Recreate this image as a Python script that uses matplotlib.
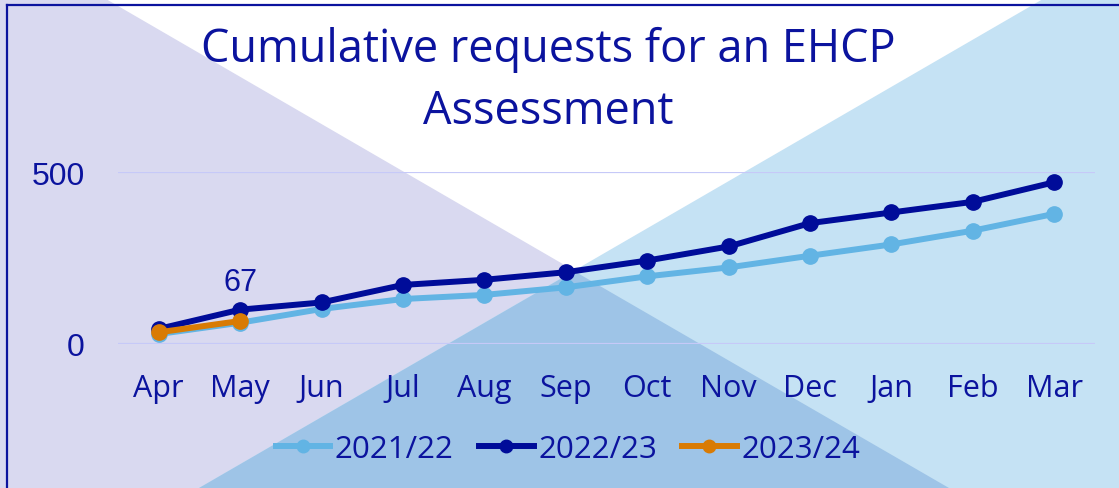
import matplotlib
matplotlib.use("Agg")
import matplotlib.pyplot as plt
from matplotlib.patches import Polygon
from matplotlib.lines import Line2D

# data
months = ['Apr', 'May', 'Jun', 'Jul', 'Aug', 'Sep', 'Oct', 'Nov', 'Dec', 'Jan', 'Feb', 'Mar']
y2122 = [29, 62, 102, 131, 143, 165, 197, 223, 257, 290, 330, 379]
y2223 = [44, 100, 121, 172, 187, 209, 243, 284, 352, 383, 414, 471]
y2324 = [34, 67]
series_names = ['2021/22', '2022/23', '2023/24']

navy = '#0b139e'
c_light = '#62b4e4'
c_dark = '#000c99'
c_orange = '#d97b04'

W, H = 1119, 489
fig = plt.figure(figsize=(W / 100, H / 100), dpi=100)

# ---- background shapes (pixel coords) ----
bg = fig.add_axes([0, 0, 1, 1])
bg.set_xlim(0, W)
bg.set_ylim(H, 0)
bg.axis('off')
bg.add_patch(Polygon([(0, 0), (W, 0), (W, H), (0, H)], color='white'))
bg.add_patch(Polygon([(0, 0), (106, 0), (949, H), (0, H)], color='#d9d9f0', lw=0))
bg.add_patch(Polygon([(1043, 0), (W, 0), (W, H), (199, H)], color='#c5e2f4', lw=0))
bg.add_patch(Polygon([(574, 272), (949, H), (199, H)], color='#9ec4e7', lw=0))
bg.plot([7, 7], [6, H], color=navy, lw=1.6)
bg.plot([7, W], [6, 6], color=navy, lw=1.6)

# ---- the chart ----
ax = fig.add_axes([118 / W, 1 - 345 / H, 977 / W, 171.7 / H])
ax.patch.set_alpha(0)
x = list(range(len(months)))

ax.plot(x, y2122, color=c_light, lw=4.3, marker='o', ms=11, clip_on=False, zorder=3, label=series_names[0])
ax.plot(x, y2223, color=c_dark, lw=4.3, marker='o', ms=11, clip_on=False, zorder=4, label=series_names[1])
ax.plot(x[:len(y2324)], y2324, color=c_orange, lw=4.3, marker='o', ms=11, clip_on=False, zorder=5, label=series_names[2])

# data label on the latest point
ax.annotate(str(y2324[-1]), (1, y2324[-1]), xytext=(0, 28), textcoords='offset points',
            ha='center', va='center', fontsize=22, color=navy, family='Liberation Sans')

ax.set_xlim(-0.5, len(months) - 0.5)
ax.set_ylim(0, 500)
ax.set_yticks([0, 500])
ax.set_xticks(x)
ax.set_xticklabels(months, fontsize=22, color=navy, family='Open Sans')
for lab in ax.get_yticklabels():
    lab.set_fontsize(23)
    lab.set_color(navy)
    lab.set_family('Liberation Sans')
ax.tick_params(axis='both', length=0)
ax.tick_params(axis='y', pad=24)
ax.tick_params(axis='x', pad=21)
ax.grid(axis='y', color='#c6c9f8', lw=1.6)
ax.set_axisbelow(True)
for s in ax.spines.values():
    s.set_visible(False)

fig.text(548 / W, 1 - 50 / H, 'Cumulative requests for an EHCP', ha='center', va='center',
         fontsize=32.5, color=navy, family='Open Sans')
fig.text(548 / W, 1 - 112 / H, 'Assessment', ha='center', va='center',
         fontsize=32.5, color=navy, family='Open Sans')

handles = [Line2D([], [], color=c, lw=4.3, marker='o', ms=9) for c in (c_light, c_dark, c_orange)]
fig.legend(handles, series_names, loc='center', bbox_to_anchor=(568 / W, 1 - 450 / H), ncol=3,
           frameon=False, prop={'family': 'Open Sans', 'size': 22.5}, labelcolor=navy,
           handlelength=1.75, handletextpad=0.15, columnspacing=0.8)

fig.savefig('out.png', dpi=100)
